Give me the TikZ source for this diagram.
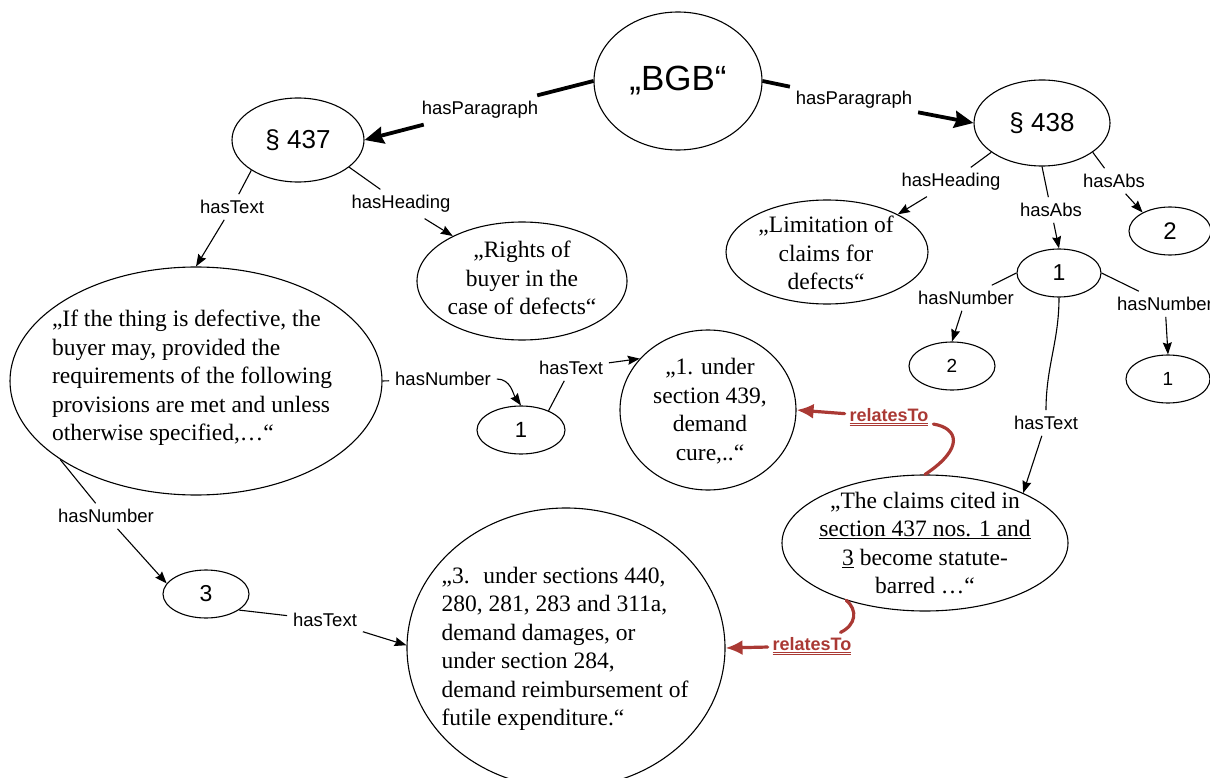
\documentclass[tikz,border=0pt]{standalone}
\usepackage{fontspec}
\setmainfont{Liberation Serif}
\setsansfont{Liberation Sans}
\usetikzlibrary{shapes.geometric,arrows.meta}
\definecolor{relred}{RGB}{170,57,52}
\newcommand{\dblline}[1]{\underline{\underline{#1}}}
\tikzset{
  ell/.style={ellipse, draw, line width=1.1pt, inner sep=0pt},
  para/.style={line width=3.8pt, -{Stealth[length=19pt,width=17pt,inset=2pt]}},
  conn/.style={line width=1.1pt, -{Stealth[length=12pt,width=9pt,inset=1.5pt]}},
  rel/.style={draw=relred, line width=3.2pt, line cap=round, -{Latex[length=17pt,width=15pt]}},
  lbl/.style={font=\sffamily\fontsize{18.5}{20}\selectfont, inner sep=1pt, outer sep=5pt},
  rlbl/.style={font=\sffamily\bfseries\fontsize{18}{20}\selectfont, text=relred, inner sep=1pt, outer sep=4pt},
  txt/.style={font=\fontsize{23.5}{28.5}\selectfont, align=center}
}
\begin{document}
\begin{tikzpicture}[x=1pt, y=-1pt, line join=round]
  \useasboundingbox (0,0) rectangle (1210,778);
  % ellipses with short texts
  \node[ell, minimum width=168, minimum height=138, font=\sffamily\fontsize{35}{38}\selectfont] (bgb) at (678,81) {„BGB“};
  \node[ell, minimum width=132, minimum height=84, font=\sffamily\fontsize{26}{30}\selectfont] (s437) at (298,140) {§ 437};
  \node[ell, minimum width=136, minimum height=86, font=\sffamily\fontsize{26}{30}\selectfont] (s438) at (1042,123) {§ 438};
  \foreach \nm/\x/\y/\w/\t/\fs in {n1/521/430/88/1/22, n3/206/594/86/3/23, r1/1059/273/84/1/23,
      r2/1170/231/82/2/24, r2b/952/366/86/2/19, r1b/1168/379/84/1/19}{
    \node[ell, minimum width=\w, minimum height=48, font=\sffamily\fontsize{\fs}{\fs}\selectfont] (\nm) at (\x,\y) {\t};
  }
  % ellipses with long texts
  \node[ell, minimum width=372, minimum height=228] (bigtext) at (196,381) {};
  \node[txt, align=left] (bigtextT) at (192,378) {„If the thing is defective, the\\buyer may, provided the\\requirements of the following\\provisions are met and unless\\otherwise specified,…“};
  \node[ell, minimum width=210, minimum height=118] (rights) at (522,281) {};
  \node[txt] (rightsT) at (522,278) {„Rights of\\buyer in the\\case of defects“};
  \node[ell, minimum width=176, minimum height=160] (sec439) at (708,410) {};
  \node[txt] (sec439T) at (710,411) {„1. under\\section 439,\\demand\\cure,..“};
  \node[ell, minimum width=202, minimum height=104] (limit) at (827,252) {};
  \node[txt] (limitT) at (826,253) {„Limitation of\\claims for\\defects“};
  \node[ell, minimum width=286, minimum height=136] (claims) at (925,543) {};
  \node[txt] (claimsT) at (925,543) {„The claims cited in\\\underline{section 437 nos. 1 and}\\\underline{3} become statute-\\barred …“};
  \node[ell, minimum width=318, minimum height=280] (sec3) at (566,648) {};
  \node[txt, align=left] (sec3T) at (565,649) {„3.~ under sections 440,\\280, 281, 283 and 311a,\\demand damages, or\\under section 284,\\demand reimbursement of\\futile expenditure.“};
  % edge labels
  \foreach \nm/\x/\y/\t in {hp1/480/110/hasParagraph, hp2/854/100/hasParagraph, ht1/232/207/hasText,
      hh1/401/204/hasHeading, hn1/443/379/hasNumber, ht2/571/368/hasText, hn3/106/516/hasNumber,
      ht3/325/620/hasText, hh2/951/182/hasHeading, ha1/1051/210/hasAbs, ha2/1114/181/hasAbs,
      hn4/966/298/hasNumber, hn5/1165/304/hasNumber, ht4/1046/423/hasText}{
    \node[lbl] (\nm) at (\x,\y) {\t};
  }
  \node[rlbl] (rt1) at (889,417) {\dblline{relatesTo}};
  \node[rlbl] (rt2) at (812,646) {\dblline{relatesTo}};
  % connectors
  \draw[para] (bgb.west) -- (hp1) -- (s437.east);
  \draw[para] (bgb.east) -- (hp2) -- (s438.west);
  \draw[conn] (s437.213) -- (ht1) -- (bigtext.north);
  \draw[conn] (s437.-28) -- (hh1) -- (rights.147);
  \draw[conn] (bigtext.east) -- (hn1) to[out=0, in=125] (n1.north);
  \draw[conn] (n1.35) -- (ht2) -- (sec439.143);
  \draw[conn] (bigtext.210) -- (hn3) -- (n3.165);
  \draw[conn] (n3.-26) -- (ht3) -- (sec3.179);
  \draw[conn] (s438.210) -- (hh2) -- (limit.28);
  \draw[conn] (s438.south) -- (ha1) -- (r1.north);
  \draw[conn] (s438.-30) -- (ha2) -- (r2.146);
  \draw[conn] (r1.west) -- (hn4) -- (r2b.north);
  \draw[conn] (r1.east) -- (hn5) -- (r1b.north);
  \draw[conn] (r1.south) to[out=-90, in=90] (ht4) -- (claims.27);
  \draw[rel] (claims.north) .. controls (965,448) and (958,428) .. (rt1) -- (sec439.east);
  \draw[rel] (claims.216) .. controls (858,610) and (856,625) .. (rt2) -- (sec3.east);
\end{tikzpicture}
\end{document}
